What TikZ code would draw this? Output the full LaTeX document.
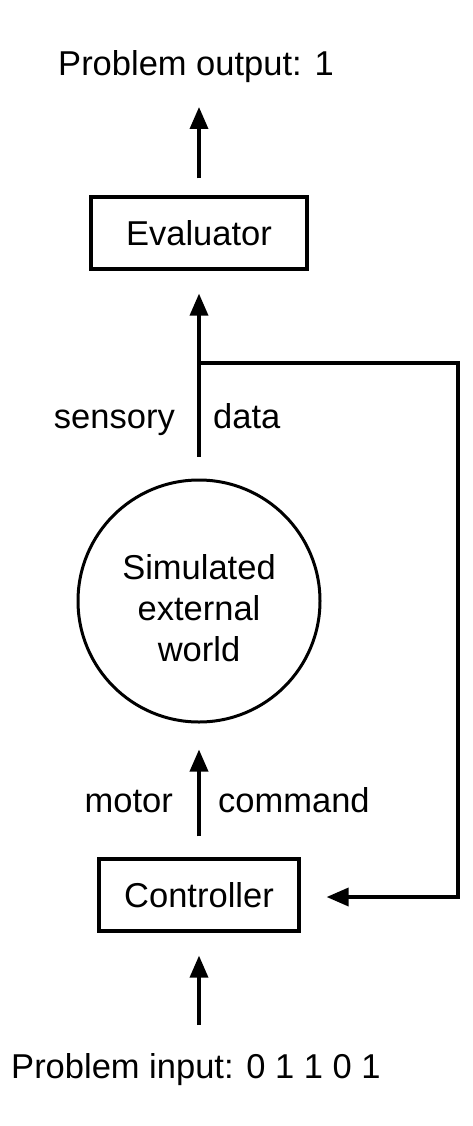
\documentclass[tikz,border=0pt]{standalone}
\usepackage{fontspec}
\setmainfont{Liberation Sans}
\usetikzlibrary{arrows.meta}
\begin{document}
\begin{tikzpicture}[x=1pt,y=-1pt,
  every node/.style={font=\fontsize{34.5}{41}\selectfont, inner sep=0pt},
  box/.style={draw, line width=3.2pt, minimum height=72pt, inner sep=0pt},
  conn/.style={line width=3.5pt},
  arr/.style={conn, -{Triangle[length=22pt,width=18pt]}}]
\useasboundingbox (0,0) rectangle (472,1126);
\node[anchor=base] (out) at (196,76) {Problem output: 1};
\node[box, minimum width=216pt] (eval) at (199,233) {Evaluator};
\node[draw, circle, line width=3pt, minimum size=242pt] (world) at (199,601) {};
\node[align=center] (worldtext) at (199,608) {Simulated\\external\\world};
\node[box, minimum width=200pt] (ctrl) at (199,895) {Controller};
\node[anchor=base] (in) at (196,1078) {Problem input: 0 1 1 0 1};
\node[anchor=base east] (sens) at (175,428) {sensory};
\node[anchor=base west] (data) at (213,428) {data};
\node[anchor=base east] (motor) at (173,812) {motor};
\node[anchor=base west] (cmd) at (218,812) {command};
\coordinate (fbtop) at (458,363);
\coordinate (fbbot) at (458,897);
\draw[arr, shorten <=17pt, shorten >=31pt] (eval.north) -- (eval.north |- out.base);
\draw[arr, shorten <=22pt, shorten >=23pt] (world.north) -- (eval.south);
\draw[conn, -{Triangle[length=22pt,width=18pt]}, shorten >=26pt] (eval.south |- fbtop) -- (fbtop) -- (fbbot) -- (fbbot -| ctrl.east);
\draw[arr, shorten <=21pt, shorten >=26pt] (ctrl.north) -- (world.south);
\draw[arr, shorten <=53pt, shorten >=23pt] (ctrl.south |- in.base) -- (ctrl.south);
\end{tikzpicture}
\end{document}
